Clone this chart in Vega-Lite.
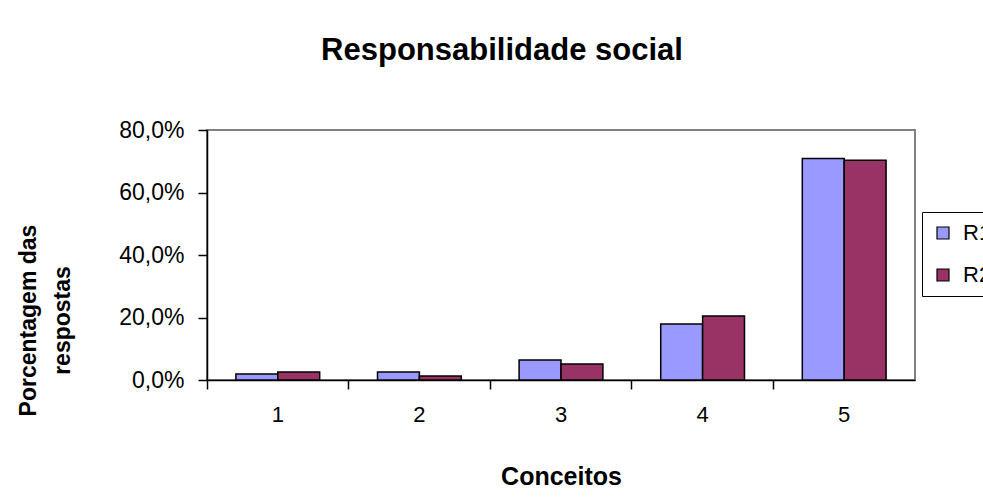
{
  "$schema": "https://vega.github.io/schema/vega-lite/v6.json",
  "width": 708,
  "height": 250,
  "autosize": {"type": "none"},
  "padding": {"left": 207, "top": 130, "right": 68, "bottom": 124},
  "background": "white",
  "title": {
    "text": "Responsabilidade social",
    "font": "Liberation Sans",
    "fontSize": 31,
    "fontWeight": "bold",
    "color": "black",
    "anchor": "middle",
    "baseline": "alphabetic",
    "offset": 28,
    "dx": -59
  },
  "data": {
    "values": [
      {"conceito": "1", "serie": "R1", "valor": 0.019},
      {"conceito": "1", "serie": "R2", "valor": 0.026},
      {"conceito": "2", "serie": "R1", "valor": 0.026},
      {"conceito": "2", "serie": "R2", "valor": 0.013},
      {"conceito": "3", "serie": "R1", "valor": 0.064},
      {"conceito": "3", "serie": "R2", "valor": 0.051},
      {"conceito": "4", "serie": "R1", "valor": 0.179},
      {"conceito": "4", "serie": "R2", "valor": 0.205},
      {"conceito": "5", "serie": "R1", "valor": 0.709},
      {"conceito": "5", "serie": "R2", "valor": 0.703}
    ]
  },
  "mark": {"type": "bar", "stroke": "black", "strokeWidth": 1.5},
  "encoding": {
    "x": {
      "field": "conceito",
      "type": "nominal",
      "scale": {"paddingInner": 0, "paddingOuter": 0},
      "axis": {
        "title": "Conceitos",
        "titleFont": "Liberation Sans",
        "titleFontSize": 25,
        "titleFontWeight": "bold",
        "titleColor": "black",
        "titleBaseline": "alphabetic",
        "titleY": 104,
        "labelAngle": 0,
        "labelFont": "Liberation Sans",
        "labelFontSize": 22,
        "labelColor": "black",
        "labelPadding": 15,
        "bandPosition": 0,
        "tickSize": 9,
        "tickColor": "black",
        "domainColor": "black",
        "domainWidth": 1.5,
        "tickWidth": 1.5
      }
    },
    "xOffset": {
      "field": "serie",
      "type": "nominal",
      "scale": {"paddingInner": 0, "paddingOuter": 0.69}
    },
    "y": {
      "field": "valor",
      "type": "quantitative",
      "scale": {"domain": [0, 0.8], "nice": false},
      "axis": {
        "title": ["Porcentagem das", "respostas"],
        "titleFont": "Liberation Sans",
        "titleFontSize": 23,
        "titleFontWeight": "bold",
        "titleColor": "black",
        "titleLineHeight": 34,
        "titleAngle": 270,
        "titleAlign": "center",
        "titleBaseline": "middle",
        "titleX": -179,
        "titleY": 190,
        "values": [0, 0.2, 0.4, 0.6, 0.8],
        "labelExpr": "replace(format(datum.value, '.1%'), '.', ',')",
        "labelFont": "Liberation Sans",
        "labelFontSize": 23,
        "labelColor": "black",
        "labelPadding": 14,
        "tickSize": 9,
        "tickColor": "black",
        "tickWidth": 1.5,
        "domainColor": "black",
        "domainWidth": 1.5,
        "grid": false
      }
    },
    "color": {
      "field": "serie",
      "type": "nominal",
      "scale": {"domain": ["R1", "R2"], "range": ["#9999FF", "#993366"]},
      "legend": {
        "title": null,
        "orient": "none",
        "legendX": 715,
        "legendY": 82,
        "direction": "vertical",
        "symbolType": "square",
        "symbolSize": 144,
        "symbolStrokeColor": "black",
        "symbolStrokeWidth": 1.2,
        "labelFont": "Liberation Sans",
        "labelFontSize": 22,
        "labelColor": "black",
        "labelOffset": 9,
        "rowPadding": 20,
        "padding": 10,
        "strokeColor": "black",
        "fillColor": "white"
      }
    }
  },
  "config": {
    "view": {"stroke": "#808080", "strokeWidth": 2}
  }
}
